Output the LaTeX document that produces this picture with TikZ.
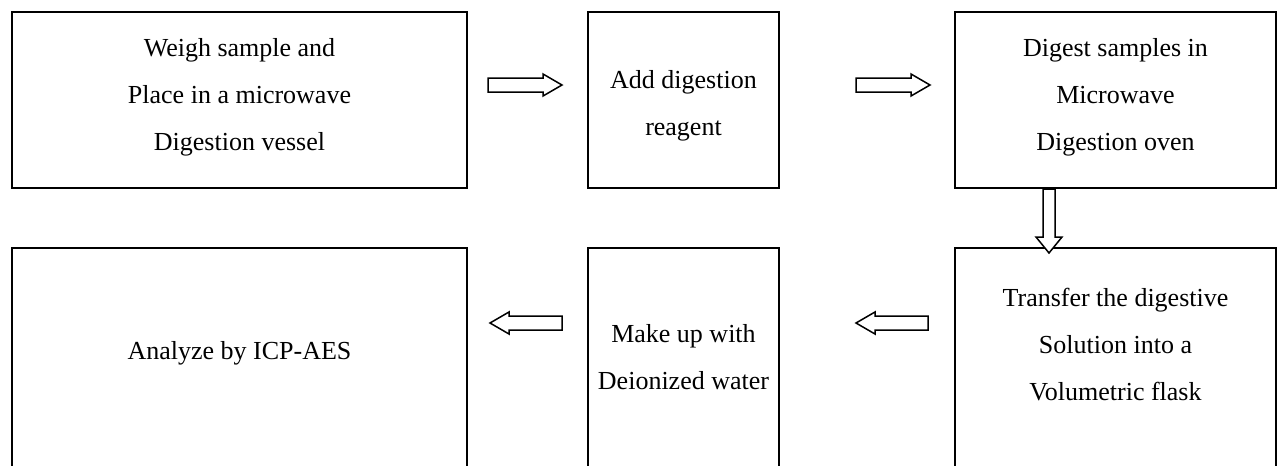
\documentclass[tikz,border=0pt]{standalone}
\usepackage{fontspec}
\setmainfont{Liberation Serif}

\tikzset{
  stepbox/.style={draw, line width=1.2pt, rectangle, inner sep=0pt},
  steptext/.style={align=center, inner sep=0pt, font=\fontsize{13}{23.5}\selectfont},
  hollowarrow/.style={draw, fill=white, line width=0.75pt, line join=miter}
}

\begin{document}
\begin{tikzpicture}[x=0.5pt,y=-0.5pt]
\clip (0,0) rectangle (1287,466);

% Top row
\node[stepbox, minimum width=227.5pt, minimum height=88pt] (weigh) at (239.5,100) {};
\node[stepbox, minimum width=95.5pt, minimum height=88pt] (reagent) at (683.5,100) {};
\node[stepbox, minimum width=160.5pt, minimum height=88pt] (digest) at (1115.5,100) {};

% Bottom row
\node[stepbox, minimum width=227.5pt, minimum height=116pt] (analyze) at (239.5,364) {};
\node[stepbox, minimum width=95.5pt, minimum height=116pt] (makeup) at (683.5,364) {};
\node[stepbox, minimum width=160.5pt, minimum height=116pt] (transfer) at (1115.5,364) {};

% Texts
\node[steptext] (weightxt) at (239.5,97) {Weigh sample and\\Place in a microwave\\Digestion vessel};
\node[steptext] (reagenttxt) at (683.5,106) {Add digestion\\reagent};
\node[steptext] (digesttxt) at (1115.5,97) {Digest samples in\\Microwave\\Digestion oven};
\node[steptext] (analyzetxt) at (239.5,353) {Analyze by ICP-AES};
\node[steptext] (makeuptxt) at (683.5,357) {Make up with\\Deionized water};
\node[steptext] (transfertxt) at (1115.5,345) {Transfer the digestive\\Solution into a\\Volumetric flask};

% Arrows
\draw[hollowarrow] (488,78) -- (543,78) -- (543,74) -- (562,85) -- (543,96) -- (543,92) -- (488,92) -- cycle;
\draw[hollowarrow] (856,78) -- (911,78) -- (911,74) -- (930,85) -- (911,96) -- (911,92) -- (856,92) -- cycle;
\draw[hollowarrow] (1043,189) -- (1055,189) -- (1055,237) -- (1062,237) -- (1049,253) -- (1036,237) -- (1043,237) -- cycle;
\draw[hollowarrow] (928,316) -- (875,316) -- (875,312) -- (856,323) -- (875,334) -- (875,330) -- (928,330) -- cycle;
\draw[hollowarrow] (562,316) -- (509,316) -- (509,312) -- (490,323) -- (509,334) -- (509,330) -- (562,330) -- cycle;
\end{tikzpicture}
\end{document}
